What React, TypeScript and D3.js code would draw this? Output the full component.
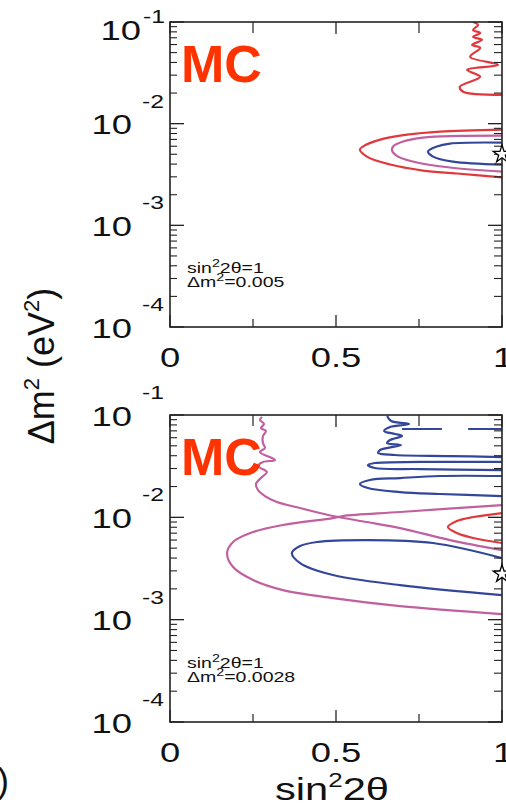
import React from 'react';
import * as d3 from 'd3';

// ---- axis data ----
const xMajorTicks = [0, 0.5, 1];
const xMinorTicks = [0.25, 0.75];
const xTickLabels = ['0', '0.5', '1'];
const yDecades = [-1, -2, -3, -4];
const yExpLabels = ['-1', '-2', '-3', '-4'];

// ---- contours: [sin²2θ, log10(Δm² / eV²)] ----
// top panel (true point sin²2θ=1, Δm²=0.005)
const topRedWiggle: [number, number][] = [
  [0.913, -1.0], [0.928, -1.029], [0.913, -1.078], [0.934, -1.108], [0.913, -1.147],
  [0.94, -1.176], [0.91, -1.225], [0.934, -1.255], [0.904, -1.343], [0.988, -1.422],
  [0.895, -1.471], [0.934, -1.539], [0.873, -1.637], [0.883, -1.686], [1.0, -1.716],
];
const topRedEllipse: [number, number][] = [
  [1.0, -2.059], [0.813, -2.078], [0.714, -2.108], [0.633, -2.157], [0.581, -2.225],
  [0.572, -2.255], [0.593, -2.324], [0.663, -2.402], [0.762, -2.461], [0.864, -2.49], [1.0, -2.529],
];
const topPinkEllipse: [number, number][] = [
  [1.0, -2.118], [0.762, -2.137], [0.702, -2.176], [0.672, -2.225], [0.669, -2.265],
  [0.687, -2.324], [0.744, -2.382], [0.843, -2.431], [1.0, -2.471],
];
const topBlueEllipse: [number, number][] = [
  [1.0, -2.186], [0.843, -2.196], [0.804, -2.225], [0.777, -2.275], [0.792, -2.324],
  [0.852, -2.373], [1.0, -2.402],
];
const topTruePoint: [number, number] = [1.0, Math.log10(0.005)];

// bottom panel (true point sin²2θ=1, Δm²=0.0028)
const botPinkWiggle: [number, number][] = [
  [0.277, -1.02], [0.271, -1.049], [0.283, -1.088], [0.274, -1.127], [0.289, -1.156],
  [0.28, -1.205], [0.28, -1.274], [0.286, -1.323], [0.271, -1.362], [0.316, -1.44],
  [0.28, -1.459], [0.265, -1.499], [0.292, -1.557], [0.277, -1.606], [0.259, -1.674],
  [0.265, -1.733], [0.286, -1.792], [0.322, -1.85], [0.392, -1.909], [0.491, -1.987],
  [0.593, -2.046], [0.693, -2.105], [0.843, -2.222], [1.0, -2.32],
];
const botPinkEllipse: [number, number][] = [
  [1.0, -1.88], [0.693, -1.948], [0.521, -1.987], [0.491, -2.007], [0.34, -2.075],
  [0.25, -2.144], [0.19, -2.241], [0.172, -2.349], [0.19, -2.486], [0.25, -2.613],
  [0.34, -2.711], [0.491, -2.789], [0.693, -2.867], [1.0, -2.945],
];
const botRedEllipse: [number, number][] = [
  [1.0, -1.958], [0.913, -1.997], [0.864, -2.036], [0.837, -2.095], [0.864, -2.153],
  [0.913, -2.202], [1.0, -2.251],
];
const botBlueEllipse: [number, number][] = [
  [1.0, -2.398], [0.792, -2.251], [0.593, -2.222], [0.443, -2.241], [0.392, -2.281],
  [0.367, -2.349], [0.392, -2.447], [0.491, -2.564], [0.693, -2.662], [1.0, -2.76],
];
const botBlueWiggle: [number, number][] = [
  [0.654, -1.01], [0.666, -1.059], [0.72, -1.088], [0.663, -1.117], [0.645, -1.156],
  [0.678, -1.186], [0.699, -1.205], [0.663, -1.244], [0.654, -1.274], [0.696, -1.293],
  [0.633, -1.342], [0.627, -1.371], [0.678, -1.391], [0.843, -1.401], [1.0, -1.411],
];
const botBlueDash1: [number, number][] = [[0.699, -1.137], [0.819, -1.137]];
const botBlueDash2: [number, number][] = [[0.898, -1.137], [1.0, -1.137]];
const botBlueLoop2: [number, number][] = [
  [1.0, -1.459], [0.753, -1.459], [0.617, -1.469], [0.596, -1.489], [0.617, -1.518],
  [0.753, -1.528], [1.0, -1.538],
];
const botBlueLoop3: [number, number][] = [
  [1.0, -1.596], [0.813, -1.596], [0.693, -1.616], [0.602, -1.635], [0.572, -1.674],
  [0.596, -1.714], [0.693, -1.753], [0.813, -1.772], [1.0, -1.792],
];
const botTruePoint: [number, number] = [1.0, Math.log10(0.0028)];

const RED = '#e0383c';
const PINK = '#c0609e';
const BLUE = '#33479a';
const MC_COLOR = '#ff3300';
const FONT = "'Liberation Sans', Arial, Helvetica, sans-serif";

type Curve = { pts: [number, number][]; color: string };

interface PanelProps {
  top: number;
  bottom: number;
  curves: Curve[];
  star: [number, number];
  note: string;
  firstLabelSpecial: boolean;
  id: string;
}

const LEFT = 170;
const RIGHT = 502;
const SX = 1.3;

function SText(props: { x: number; y: number; anchor?: string; size: number; children: React.ReactNode; weight?: string; fill?: string }) {
  return (
    <g transform={`translate(${props.x},${props.y}) scale(${SX},1)`}>
      <text textAnchor={props.anchor || 'start'} fontSize={props.size} fontFamily={FONT} fontWeight={props.weight || 'normal'} fill={props.fill || '#111'}>
        {props.children}
      </text>
    </g>
  );
}

function Panel({ top, bottom, curves, star, note, firstLabelSpecial, id }: PanelProps) {
  const x = d3.scaleLinear().domain([0, 1]).range([LEFT, RIGHT]);
  const y = d3.scaleLog().domain([1e-4, 1e-1]).range([bottom, top]);
  const line = d3
    .line<[number, number]>()
    .x((d) => x(d[0]))
    .y((d) => y(Math.pow(10, d[1])))
    .curve(d3.curveCatmullRom.alpha(0.5));

  const minor: number[] = [];
  for (let e = -4; e < -1; e++) for (let k = 2; k <= 9; k++) minor.push(k * Math.pow(10, e));

  const frame = '#222';
  const [sy, sz] = star;
  const starPath = d3.symbol(d3.symbolStar, 95)() as string;

  return (
    <g>
      <defs>
        <clipPath id={id}>
          <rect x={LEFT} y={top} width={RIGHT - LEFT} height={bottom - top} />
        </clipPath>
      </defs>
      <g clipPath={`url(#${id})`}>
        {curves.map((c, i) => (
          <path key={i} d={line(c.pts) as string} fill="none" stroke={c.color} strokeWidth={2.2} />
        ))}
      </g>
      {/* y ticks */}
      {yDecades.map((e) => {
        const ty = y(Math.pow(10, e));
        return (
          <g key={'M' + e}>
            <line x1={LEFT} x2={LEFT + 14} y1={ty} y2={ty} stroke={frame} strokeWidth={1.3} />
            <line x1={RIGHT} x2={RIGHT - 14} y1={ty} y2={ty} stroke={frame} strokeWidth={1.3} />
          </g>
        );
      })}
      {minor.map((v, i) => {
        const ty = y(v);
        return (
          <g key={'m' + i}>
            <line x1={LEFT} x2={LEFT + 7} y1={ty} y2={ty} stroke={frame} strokeWidth={1.1} />
            <line x1={RIGHT} x2={RIGHT - 8} y1={ty} y2={ty} stroke={frame} strokeWidth={1.1} />
          </g>
        );
      })}
      {/* x ticks */}
      {xMajorTicks.map((v) => (
        <g key={'xM' + v}>
          <line x1={x(v)} x2={x(v)} y1={top} y2={top + 12} stroke={frame} strokeWidth={1.3} />
          <line x1={x(v)} x2={x(v)} y1={bottom} y2={bottom - 12} stroke={frame} strokeWidth={1.3} />
        </g>
      ))}
      {xMinorTicks.map((v) => (
        <g key={'xm' + v}>
          <line x1={x(v)} x2={x(v)} y1={top} y2={top + 11} stroke={frame} strokeWidth={1.2} />
          <line x1={x(v)} x2={x(v)} y1={bottom} y2={bottom - 8} stroke={frame} strokeWidth={1.2} />
        </g>
      ))}
      <rect x={LEFT} y={top} width={RIGHT - LEFT} height={bottom - top} fill="none" stroke={frame} strokeWidth={1.6} />

      {/* y tick labels */}
      {yDecades.map((e, i) => {
        const ty = y(Math.pow(10, e));
        if (i === 0 && firstLabelSpecial) {
          return (
            <g key={'yl' + e}>
              <SText x={141} y={40} anchor="end" size={28}>10</SText>
              <SText x={143} y={23} size={19}>{yExpLabels[i]}</SText>
            </g>
          );
        }
        return (
          <g key={'yl' + e}>
            <SText x={132} y={ty + 10.5} anchor="end" size={28}>10</SText>
            <SText x={142} y={ty - 16} size={19}>{yExpLabels[i]}</SText>
          </g>
        );
      })}
      {/* x tick labels */}
      {xMajorTicks.map((v, i) => (
        <SText key={'xl' + v} x={x(v) + (i === 2 ? 1 : 0)} y={bottom + 40} anchor="middle" size={28}>
          {xTickLabels[i]}
        </SText>
      ))}

      {/* MC label */}
      <text x={181} y={top + 60} fontSize={52} fontWeight="bold" fontFamily={FONT} fill={MC_COLOR}>MC</text>

      {/* true-parameter note */}
      <g transform={`translate(187,${bottom - 54}) scale(${SX},1)`}>
        <text fontSize={15} fontFamily={FONT} fill="#111">
          sin<tspan dy={-6} fontSize={11}>2</tspan><tspan dy={6}>2θ=1</tspan>
        </text>
      </g>
      <g transform={`translate(187,${bottom - 40}) scale(${SX},1)`}>
        <text fontSize={15} fontFamily={FONT} fill="#111">
          Δm<tspan dy={-6} fontSize={11}>2</tspan><tspan dy={6}>={note}</tspan>
        </text>
      </g>

      {/* true point star */}
      <path d={starPath} transform={`translate(${x(sy)},${y(Math.pow(10, sz))})`} fill="white" stroke="#000" strokeWidth={1.3} />
    </g>
  );
}

export default function App() {
  return (
    <svg width={506} height={808} style={{ position: 'absolute', left: 0, top: 0, background: 'white' }}>
      <rect x={0} y={0} width={506} height={808} fill="white" />
      <Panel
        id="clipTop"
        top={22}
        bottom={327}
        firstLabelSpecial={true}
        note="0.005"
        star={topTruePoint}
        curves={[
          { pts: topRedWiggle, color: RED },
          { pts: topRedEllipse, color: RED },
          { pts: topPinkEllipse, color: PINK },
          { pts: topBlueEllipse, color: BLUE },
        ]}
      />
      <Panel
        id="clipBot"
        top={415}
        bottom={722}
        firstLabelSpecial={false}
        note="0.0028"
        star={botTruePoint}
        curves={[
          { pts: botPinkWiggle, color: PINK },
          { pts: botPinkEllipse, color: PINK },
          { pts: botRedEllipse, color: RED },
          { pts: botBlueEllipse, color: BLUE },
          { pts: botBlueWiggle, color: BLUE },
          { pts: botBlueDash1, color: BLUE },
          { pts: botBlueDash2, color: BLUE },
          { pts: botBlueLoop2, color: BLUE },
          { pts: botBlueLoop3, color: BLUE },
        ]}
      />
      {/* axis titles */}
      <g transform="translate(332,800) scale(1.3,1)">
        <text textAnchor="middle" fontSize={32} fontFamily={FONT} fill="#111">
          sin<tspan dy={-13} fontSize={20}>2</tspan><tspan dy={13}>2θ</tspan>
        </text>
      </g>
      <g transform="translate(54,366) rotate(-90)">
        <text textAnchor="middle" fontSize={36} fontFamily={FONT} fill="#111">
          Δm<tspan dy={-15} fontSize={22}>2</tspan><tspan dy={15}> (eV</tspan><tspan dy={-15} fontSize={22}>2</tspan><tspan dy={15}>)</tspan>
        </text>
      </g>
      <text x={9} y={793} textAnchor="end" fontSize={35} fontFamily={FONT} fill="#111">(b)</text>
    </svg>
  );
}
